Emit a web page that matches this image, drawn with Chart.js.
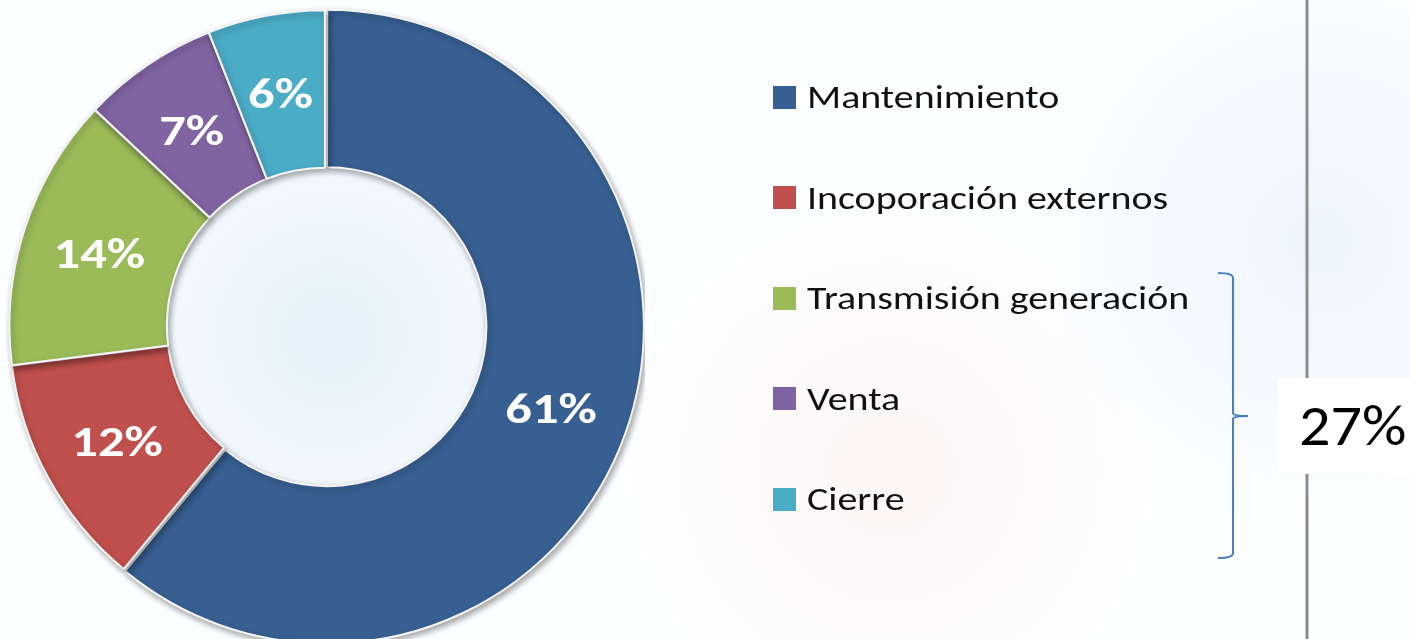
<!DOCTYPE html>
<html>
<head>
<meta charset="utf-8">
<script src="https://cdn.jsdelivr.net/npm/chart.js@4.4.1/dist/chart.umd.min.js"></script>
<style>
    html, body {
        margin: 0;
        padding: 0;
        width: 1410px;
        height: 639px;
        overflow: hidden;
        font-family: Carlito, Lato, "Open Sans", sans-serif;
        background:
            radial-gradient(circle at 330px 335px, rgba(225, 240, 250, 0.9) 0, rgba(235, 245, 252, 0.6) 170px, rgba(255, 255, 255, 0) 330px),
            radial-gradient(circle at 890px 470px, rgba(252, 238, 238, 0.55) 0, rgba(255, 255, 255, 0) 260px),
            radial-gradient(circle at 1320px 240px, rgba(232, 242, 252, 0.8) 0, rgba(255, 255, 255, 0) 290px),
            #fdfeff;
    }
    #chart-box {
        position: absolute;
        left: 5px;
        top: 6px;
        width: 640px;
        height: 640px;
    }
    #legend {
        position: absolute;
        left: 773px;
        top: 47px;
    }
    .legend-item {
        height: 100.5px;
        display: flex;
        align-items: center;
        font-size: 33px;
        color: #111;
    }
    .legend-box {
        width: 23px;
        height: 23px;
        margin-right: 11px;
        flex: none;
    }
    .legend-text {
        display: inline-block;
        transform: scaleX(1.21);
        transform-origin: left center;
        white-space: nowrap;
    }
    #decor {
        position: absolute;
        left: 0;
        top: 0;
    }
    #total {
        position: absolute;
        left: 1278px;
        top: 378px;
        width: 132px;
        height: 96px;
        background: #fff;
        padding-left: 21px;
        box-sizing: border-box;
        color: #000;
    }
    #total span {
        display: inline-block;
        font-size: 57px;
        line-height: 96px;
        transform: scaleX(1.09);
        transform-origin: left center;
    }
</style>
</head>
<body>
<div id="chart-box"><canvas id="donut"></canvas></div>
<svg id="decor" width="1410" height="639">
    <line x1="1307" y1="0" x2="1307" y2="639" stroke="#8c8c8c" stroke-width="3"/>
    <path d="M1218 273 Q1233 273 1233 278 L1233 413 Q1233 416 1248 416 Q1233 416 1233 419 L1233 553 Q1233 558 1218 558"
          fill="none" stroke="#4a7ebf" stroke-width="2"/>
</svg>
<div id="legend"></div>
<div id="total"><span></span></div>

<script>
const categories = ['Mantenimiento', 'Incoporación externos', 'Transmisión generación', 'Venta', 'Cierre'];
const shares = [61, 12, 14, 7, 6];
const colors = ['#375f91', '#c0504d', '#9bbb59', '#8064a2', '#4bacc6'];
const bracketLabel = '27%';

document.addEventListener('DOMContentLoaded', () => {
    const legendEl = document.getElementById('legend');
    categories.forEach((name, i) => {
        const item = document.createElement('div');
        item.className = 'legend-item';
        const box = document.createElement('span');
        box.className = 'legend-box';
        box.style.background = colors[i];
        const txt = document.createElement('span');
        txt.className = 'legend-text';
        txt.textContent = name;
        item.appendChild(box);
        item.appendChild(txt);
        legendEl.appendChild(item);
    });
    document.querySelector('#total span').textContent = bracketLabel;

    // soft drop shadow under the ring
    const shadowPlugin = {
        id: 'ringShadow',
        beforeDatasetsDraw(chart) {
            const ctx = chart.ctx;
            ctx.save();
            ctx.shadowColor = 'rgba(0, 0, 0, 0.35)';
            ctx.shadowBlur = 6;
            ctx.shadowOffsetX = 2;
            ctx.shadowOffsetY = 3;
        },
        afterDatasetsDraw(chart) {
            chart.ctx.restore();
        }
    };

    // white percentage labels in each slice
    const labelPlugin = {
        id: 'sliceLabels',
        afterDraw(chart) {
            const ctx = chart.ctx;
            const meta = chart.getDatasetMeta(0);
            ctx.fillStyle = '#ffffff';
            ctx.font = 'bold 42px Carlito, Lato, sans-serif';
            ctx.textAlign = 'center';
            ctx.textBaseline = 'middle';
            meta.data.forEach((arc, i) => {
                const p = arc.tooltipPosition();
                ctx.save();
                ctx.translate(p.x, p.y + 5);
                ctx.scale(1.25, 1);
                ctx.fillText(shares[i] + '%', 0, 0);
                ctx.restore();
            });
        }
    };

    new Chart(document.getElementById('donut').getContext('2d'), {
        type: 'doughnut',
        data: {
            labels: categories,
            datasets: [{
                data: shares,
                backgroundColor: colors,
                borderColor: '#f4f4f4',
                borderWidth: 2,
                offset: [8, 2, 2, 2, 2]
            }]
        },
        options: {
            responsive: true,
            maintainAspectRatio: false,
            animation: false,
            cutout: '50%',
            layout: { padding: 0 },
            plugins: {
                legend: { display: false },
                tooltip: { enabled: false }
            }
        },
        plugins: [shadowPlugin, labelPlugin]
    });
});
</script>
</body>
</html>
